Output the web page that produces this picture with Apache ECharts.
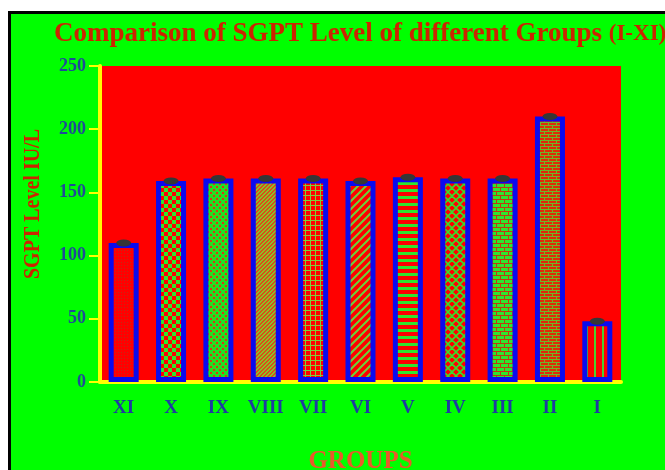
<!DOCTYPE html>
<html>
<head>
<meta charset="utf-8">
<script src="https://cdn.jsdelivr.net/npm/echarts@6/dist/echarts.min.js"></script>
<style>
  html, body { margin: 0; padding: 0; background: #ffffff; }
  #frame {
    position: absolute; left: 8px; top: 11px; width: 657px; height: 459px;
    border-left: 3px solid #000; border-top: 3px solid #000;
    background: #00ff00; box-sizing: border-box;
  }
  #chart { position: absolute; left: 0; top: 0; width: 665px; height: 470px; }
</style>
</head>
<body>
<div id="frame"></div>
<div id="chart"></div>
<script>
// Group names on the category axis, in drawing order
const groups = ['XI', 'X', 'IX', 'VIII', 'VII', 'VI', 'V', 'IV', 'III', 'II', 'I'];
// Mean SGPT level (IU/L) per group
const sgpt = [110, 159, 161, 161, 161, 159, 162, 161, 161, 210, 48];
// Value axis ticks
const yTicks = [0, 50, 100, 150, 200, 250];

const RED = '#ff0000';
const GRN = '#2ee62e';

function makeCanvas(w, h, draw) {
  const c = document.createElement('canvas');
  c.width = w; c.height = h;
  const g = c.getContext('2d');
  draw(g, w, h);
  return c;
}

// Fill patterns for each group's bar
const patterns = {
  dots: makeCanvas(3, 3, (g) => {
    g.fillStyle = RED; g.fillRect(0, 0, 3, 3);
    g.fillStyle = '#b83018'; g.fillRect(1, 1, 1, 1);
  }),
  checker: makeCanvas(8, 8, (g) => {
    g.fillStyle = RED; g.fillRect(0, 0, 8, 8);
    g.fillStyle = GRN; g.fillRect(0, 0, 4, 4); g.fillRect(4, 4, 4, 4);
  }),
  fineChecker: makeCanvas(6, 6, (g) => {
    g.fillStyle = '#22e022'; g.fillRect(0, 0, 6, 6);
    g.fillStyle = '#d83a10';
    g.fillRect(0, 0, 2, 2); g.fillRect(3, 3, 2, 2);
  }),
  fineDiag: makeCanvas(4, 4, (g) => {
    g.fillStyle = '#8cc028'; g.fillRect(0, 0, 4, 4);
    g.fillStyle = '#d85018';
    for (let i = 0; i < 4; i++) { g.fillRect((3 - i + 4) % 4, i, 1, 1); g.fillRect((4 - i + 4) % 4, i, 1, 1); }
  }),
  grid: makeCanvas(5, 5, (g) => {
    g.fillStyle = RED; g.fillRect(0, 0, 5, 5);
    g.fillStyle = '#7ad03a'; g.fillRect(0, 0, 5, 1); g.fillRect(0, 0, 1, 5);
  }),
  diag: makeCanvas(8, 8, (g) => {
    g.fillStyle = RED; g.fillRect(0, 0, 8, 8);
    g.strokeStyle = '#6ad23a'; g.lineWidth = 2;
    g.beginPath();
    g.moveTo(-2, 10); g.lineTo(10, -2);
    g.moveTo(-6, 6); g.lineTo(6, -6);
    g.moveTo(2, 14); g.lineTo(14, 2);
    g.stroke();
  }),
  hstripe: makeCanvas(4, 7, (g) => {
    g.fillStyle = RED; g.fillRect(0, 0, 4, 7);
    g.fillStyle = GRN; g.fillRect(0, 0, 4, 3);
  }),
  cross: makeCanvas(8, 8, (g) => {
    g.fillStyle = RED; g.fillRect(0, 0, 8, 8);
    g.strokeStyle = '#3adc2a'; g.lineWidth = 1.6;
    g.beginPath();
    g.moveTo(-4, 4); g.lineTo(4, -4);
    g.moveTo(0, 8); g.lineTo(8, 0);
    g.moveTo(4, 12); g.lineTo(12, 4);
    g.moveTo(-4, 4); g.lineTo(4, 12);
    g.moveTo(0, 0); g.lineTo(8, 8);
    g.moveTo(4, -4); g.lineTo(12, 4);
    g.stroke();
  }),
  brickGreen: makeCanvas(8, 8, (g) => {
    g.fillStyle = GRN; g.fillRect(0, 0, 8, 8);
    g.fillStyle = '#c03a10';
    g.fillRect(0, 3, 8, 1); g.fillRect(0, 7, 8, 1);
    g.fillRect(0, 0, 1, 3); g.fillRect(4, 4, 1, 3);
  }),
  brickRed: makeCanvas(8, 6, (g) => {
    g.fillStyle = '#e02a08'; g.fillRect(0, 0, 8, 6);
    g.fillStyle = '#6cb828';
    g.fillRect(0, 2, 8, 1); g.fillRect(0, 5, 8, 1);
    g.fillRect(0, 0, 1, 2); g.fillRect(4, 3, 1, 2);
  }),
  vstripe: makeCanvas(8, 4, (g) => {
    g.fillStyle = RED; g.fillRect(0, 0, 8, 4);
    g.fillStyle = '#48d030'; g.fillRect(2, 0, 2, 4);
  })
};

const barPattern = ['dots', 'checker', 'fineChecker', 'fineDiag', 'grid', 'diag',
                    'hstripe', 'cross', 'brickGreen', 'brickRed', 'vstripe'];

const barData = sgpt.map((v, i) => ({
  value: v,
  itemStyle: { color: { image: patterns[barPattern[i]], repeat: 'repeat' } }
}));

const serif = '"Liberation Serif", "DejaVu Serif", serif';
const chart = echarts.init(document.getElementById('chart'), null, { renderer: 'canvas' });

chart.setOption({
  backgroundColor: 'transparent',
  animation: false,
  title: {
    text: 'Comparison of SGPT Level of different Groups {s|(I-XI)}',
    left: 49, top: 16,
    textStyle: {
      fontFamily: serif, fontWeight: 'bold', fontSize: 27, color: '#cc2400',
      rich: { s: { fontFamily: serif, fontWeight: 'bold', fontSize: 23, color: '#cc2400' } }
    }
  },
  graphic: [{
    type: 'text',
    x: 33, y: 204, rotation: Math.PI / 2, scaleY: 1.2,
    style: {
      text: 'SGPT Level IU/L', fontFamily: serif, fontWeight: 'bold', fontSize: 20,
      fill: '#cc2400', align: 'center', verticalAlign: 'middle'
    }
  }],
  grid: {
    left: 100, top: 66, width: 521, height: 316,
    containLabel: false, outerBoundsMode: 'none',
    show: true, backgroundColor: RED, borderWidth: 0
  },
  xAxis: {
    type: 'category',
    data: groups,
    name: 'GROUPS',
    nameLocation: 'middle',
    nameGap: 67,
    nameTextStyle: { fontFamily: serif, fontWeight: 'bold', fontSize: 25, color: '#e85a2a' },
    axisLine: { lineStyle: { color: '#ffff00', width: 4 } },
    axisTick: { alignWithLabel: true, length: 7, lineStyle: { color: '#ffff00', width: 2 } },
    axisLabel: { fontFamily: serif, fontWeight: 'bold', fontSize: 19, color: '#1f3ca0', margin: 17 },
    splitLine: { show: false }
  },
  yAxis: {
    type: 'value',
    min: yTicks[0], max: yTicks[yTicks.length - 1], interval: 50,
    axisLine: { show: true, lineStyle: { color: '#ffff00', width: 4 } },
    axisTick: { show: true, length: 11, lineStyle: { color: '#ffff00', width: 2 } },
    axisLabel: { fontFamily: serif, fontWeight: 'bold', fontSize: 18, color: '#1f4a98', margin: 14 },
    splitLine: { show: false }
  },
  series: [{
    type: 'bar',
    data: barData,
    barWidth: 30,
    itemStyle: { borderColor: '#0a0aee', borderWidth: 5 }
  }, {
    // error-bar caps sitting on each bar top
    type: 'scatter',
    data: sgpt,
    symbol: 'circle',
    symbolSize: [15, 7],
    itemStyle: { color: '#363636', opacity: 1 },
    z: 5
  }]
});
</script>
</body>
</html>
